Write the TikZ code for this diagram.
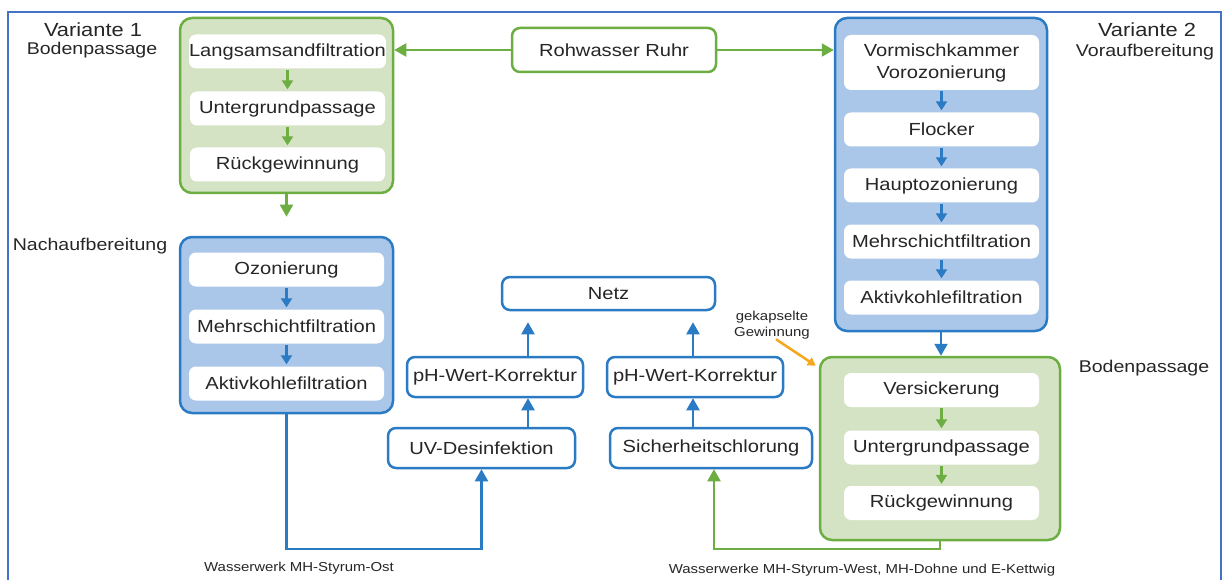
\documentclass[tikz,border=0pt]{standalone}
\usepackage{fontspec}
\setmainfont{Liberation Sans}[FakeStretch=1.15]
\usepackage{xcolor}
\definecolor{wwGreen}{HTML}{6DAE43}
\definecolor{wwGreenFill}{HTML}{D4E3C3}
\definecolor{wwBlue}{HTML}{2A7AC4}
\definecolor{wwBlueFill}{HTML}{AAC7E9}
\definecolor{wwText}{HTML}{262626}
\definecolor{wwFrame}{HTML}{4472C4}
\definecolor{wwOrange}{HTML}{F4A81D}
\usetikzlibrary{arrows.meta}
\tikzset{
  stagebox/.style={fill=white, rounded corners=7pt, minimum width=195pt, minimum height=34pt,
    inner sep=0pt, text=wwText, font=\fontsize{17.5}{22}\selectfont, align=center},
  greenGroup/.style={draw=wwGreen, fill=wwGreenFill, line width=2.5pt, rounded corners=12pt, inner sep=0pt},
  blueGroup/.style={draw=wwBlue, fill=wwBlueFill, line width=2.5pt, rounded corners=12pt, inner sep=0pt},
  unitbox/.style={draw=wwBlue, fill=white, line width=2.5pt, rounded corners=8pt, minimum height=40pt,
    inner sep=0pt, text=wwText, font=\fontsize{17.5}{22}\selectfont},
  headtext/.style={text=wwText, font=\fontsize{17}{19}\selectfont, align=center, inner sep=0pt},
  notetext/.style={text=wwText, font=\fontsize{13}{16}\selectfont, align=center, inner sep=0pt},
  flowG/.style={draw=wwGreen, line width=2.2pt, -{Triangle[width=13pt,length=12pt]}},
  flowB/.style={draw=wwBlue, line width=2.2pt, -{Triangle[width=13pt,length=12pt]}},
  stepG/.style={draw=wwGreen, line width=2.2pt, -{Triangle[width=11pt,length=9pt]}, shorten <=1pt, shorten >=2pt},
  stepB/.style={draw=wwBlue, line width=2.2pt, -{Triangle[width=11pt,length=9pt]}, shorten <=1pt, shorten >=2pt},
  kapselArrow/.style={draw=wwOrange, line width=2.5pt, -{Triangle[width=9pt,length=8pt]}}
}

\begin{document}
\begin{tikzpicture}[x=1pt,y=-1pt]
  \useasboundingbox (0,0) rectangle (1228,580);
  \draw[wwFrame, line width=2pt] (8,12) rectangle (1221,600);

  \node[headtext, font=\fontsize{19}{21}\selectfont] (var1) at (93,30) {Variante 1};
  \node[headtext] (var1sub) at (92,50) {Bodenpassage};
  \node[headtext, font=\fontsize{19}{21}\selectfont] (var2) at (1147,30) {Variante 2};
  \node[headtext] (var2sub) at (1145,52) {Voraufbereitung};
  \node[headtext] (nachLabel) at (90,246) {Nachaufbereitung};
  \node[headtext] (bodenLabel) at (1144,368) {Bodenpassage};

  \node[unitbox, draw=wwGreen, minimum width=204pt, minimum height=44pt] (roh) at (614,50) {Rohwasser Ruhr};

  \node[greenGroup, minimum width=213pt, minimum height=175pt] (v1) at (286.5,105.5) {};
  \node[stagebox] (langsam) at (287.5,51.5) {Langsamsandfiltration};
  \node[stagebox] (untergrundA) at (287.5,108.5) {Untergrundpassage};
  \node[stagebox] (rueckA) at (287.5,164.5) {Rückgewinnung};
  \draw[stepG] (langsam) -- (untergrundA);
  \draw[stepG] (untergrundA) -- (rueckA);

  \node[blueGroup, minimum width=213pt, minimum height=176pt] (nach) at (286.5,325) {};
  \node[stagebox] (ozon) at (286.5,269.5) {Ozonierung};
  \node[stagebox] (mehrB) at (286.5,326.5) {Mehrschichtfiltration};
  \node[stagebox] (aktivB) at (286.5,383.5) {Aktivkohlefiltration};
  \draw[stepB] (ozon) -- (mehrB);
  \draw[stepB] (mehrB) -- (aktivB);

  \node[blueGroup, minimum width=212pt, minimum height=313pt] (v2) at (941,174.5) {};
  \node[stagebox, minimum height=55pt] (vormisch) at (941.5,62.5) {Vormischkammer\\Vorozonierung};
  \node[stagebox] (flocker) at (941.5,129.5) {Flocker};
  \node[stagebox] (haupt) at (941.5,185.5) {Hauptozonierung};
  \node[stagebox] (mehrA) at (941.5,241.5) {Mehrschichtfiltration};
  \node[stagebox] (aktivA) at (941.5,297.5) {Aktivkohlefiltration};
  \draw[stepB] (vormisch) -- (flocker);
  \draw[stepB] (flocker) -- (haupt);
  \draw[stepB] (haupt) -- (mehrA);
  \draw[stepB] (mehrA) -- (aktivA);

  \node[greenGroup, minimum width=240pt, minimum height=183pt] (boden2) at (940,448.5) {};
  \node[stagebox] (versick) at (941.5,390) {Versickerung};
  \node[stagebox] (untergrundB) at (941.5,447.5) {Untergrundpassage};
  \node[stagebox] (rueckB) at (941.5,503) {Rückgewinnung};
  \draw[stepG] (versick) -- (untergrundB);
  \draw[stepG] (untergrundB) -- (rueckB);

  \node[unitbox, minimum width=213pt, minimum height=33pt] (netz) at (608.5,293.5) {Netz};
  \node[unitbox, minimum width=176pt] (ph1) at (495,377) {pH-Wert-Korrektur};
  \node[unitbox, minimum width=176pt] (ph2) at (695,377) {pH-Wert-Korrektur};
  \node[unitbox, minimum width=187pt] (uv) at (481.5,448) {UV-Desinfektion};
  \node[unitbox, minimum width=202pt] (sicher) at (711,448) {Sicherheitschlorung};

  \node[notetext] (kapsel) at (772,325) {gekapselte\\Gewinnung};
  \node[notetext] (ostLabel) at (299,568) {Wasserwerk MH-Styrum-Ost};
  \node[notetext] (westLabel) at (862,570) {Wasserwerke MH-Styrum-West, MH-Dohne und E-Kettwig};

  \coordinate (leftAxis) at (528,0);
  \coordinate (rightAxis) at (693,0);
  \coordinate (westAxis) at (714,0);
  \coordinate (loopBase) at (0,549);

  \draw[flowG] (roh) -- (roh -| v1.east);
  \draw[flowG] (roh) -- (roh -| v2.west);
  \draw[flowG, shorten >=19pt] (v1) -- (nach);
  \draw[flowB] (v2.south) -- (v2.south |- boden2.north);
  \draw[flowB] (uv.north -| leftAxis) -- (ph1.south -| leftAxis);
  \draw[flowB, shorten >=11pt] (ph1.north -| leftAxis) -- (netz.south -| leftAxis);
  \draw[flowB] (sicher.north -| rightAxis) -- (ph2.south -| rightAxis);
  \draw[flowB, shorten >=11pt] (ph2.north -| rightAxis) -- (netz.south -| rightAxis);
  \draw[flowB] (nach.south) -- (nach.south |- loopBase) -| (uv.south);
  \draw[flowG] (boden2.south) -- (boden2.south |- loopBase) -| (sicher.south -| westAxis);
  \draw[kapselArrow] ([xshift=4pt]kapsel.south) -- ([shift={(-3,10)}]boden2.north west);
\end{tikzpicture}
\end{document}
